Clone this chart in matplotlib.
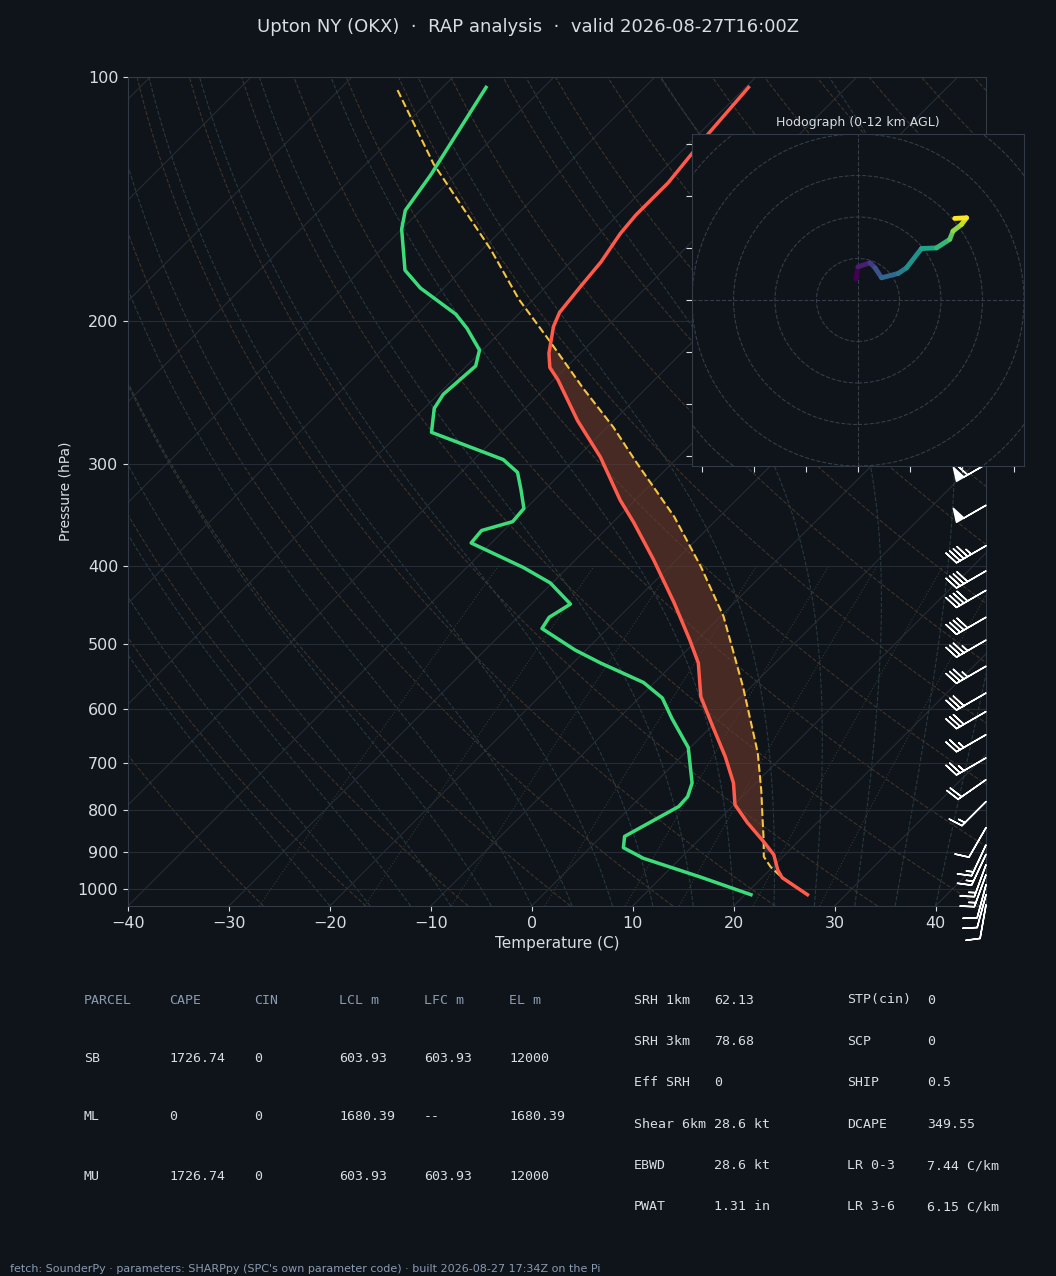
import numpy as np
import matplotlib
matplotlib.use("Agg")
import matplotlib.pyplot as plt
from matplotlib.collections import LineCollection

# sounding values
t_pres = [1017, 969, 948, 908, 875, 829, 788, 741, 688, 632, 580, 527, 494, 444, 393, 354,
          332, 294, 265, 236, 228, 219, 203, 195, 181, 169, 156, 148, 135, 125, 117, 103]
t_temp = [26.2, 22.0, 20.8, 18.9, 16.6, 13.1, 10.1, 7.8, 4.4, 0.2, -4.0, -7.6, -10.7, -16.0,
          -22.3, -27.9, -31.5, -37.7, -43.6, -49.6, -51.6, -53.1, -55.3, -56.1, -56.6, -57.0,
          -57.9, -58.2, -58.2, -58.7, -59.1, -59.7]

td_pres = [1017, 967, 917, 890, 862, 835, 792, 770, 741, 670, 617, 582, 557, 527, 508, 478,
           463, 446, 420, 402, 375, 362, 353, 340, 322, 307, 296, 274, 256, 246, 227, 217,
           204, 196, 182, 173, 154, 146, 132, 103]
td_temp = [20.6, 13.8, 6.3, 3.3, 2.3, 3.2, 4.7, 4.6, 3.7, -0.2, -4.7, -7.7, -11.1, -17.3, -21.1,
           -26.5, -26.9, -26.1, -30.2, -34.4, -42.0, -42.2, -40.0, -40.2, -42.4, -44.4, -47.1,
           -56.9, -59.0, -59.5, -59.1, -60.3, -63.7, -66.2, -72.3, -75.6, -80.0, -81.5, -82.5, -85.7]

parcel_pres = [1017, 969, 940, 913, 870, 824, 757, 680, 564, 462, 401, 348, 299, 270, 242,
               212, 188, 163, 128, 103]
parcel_temp = [26.2, 22.0, 19.8, 18.1, 16.4, 14.4, 11.3, 7.2, -0.8, -9.7, -16.9, -24.5, -33.5,
               -39.4, -46.2, -54.1, -61.4, -69.2, -83.3, -94.6]

barb_pres = [1047, 1017, 989, 961, 934, 907, 883, 841, 781, 734, 690, 646, 605, 574, 532,
             494, 463, 429, 406, 378, 337, 300]
barb_spd = [10, 12, 12, 13, 14, 15, 15, 10, 15, 20, 25, 25, 30, 30, 35, 35, 40, 40, 40, 45, 50, 60]
barb_dir = [190, 195, 195, 200, 200, 205, 205, 210, 225, 235, 240, 240, 240, 240, 240,
            240, 240, 240, 240, 240, 240, 240]

hodo_u = [-1, 0, 5.8, 8.2, 11.4, 19.4, 23.4, 30.6, 37.8, 44.2, 45.8, 49.9, 52.3, 46.6]
hodo_v = [10, 16, 17.9, 15.5, 10.7, 12.8, 15.5, 24.8, 25.1, 29.2, 33.2, 36.4, 39.6, 39.3]

table_left = [["PARCEL", "CAPE", "CIN", "LCL m", "LFC m", "EL m"],
              ["SB", "1726.74", "0", "603.93", "603.93", "12000"],
              ["ML", "0", "0", "1680.39", "--", "1680.39"],
              ["MU", "1726.74", "0", "603.93", "603.93", "12000"]]
table_mid = [["SRH 1km", "62.13"], ["SRH 3km", "78.68"], ["Eff SRH", "0"],
             ["Shear 6km", "28.6 kt"], ["EBWD", "28.6 kt"], ["PWAT", "1.31 in"]]
table_right = [["STP(cin)", "0"], ["SCP", "0"], ["SHIP", "0.5"], ["DCAPE", "349.55"],
               ["LR 0-3", "7.44 C/km"], ["LR 3-6", "6.15 C/km"]]

BG = "#0f131a"
FG = "#d8dde4"
GRID = "#252c35"
P_BOT, P_TOP = 1050, 100
SKEW = 80.5  # degC per decade of pressure


def skew(t, p):
    return np.asarray(t, float) + SKEW * np.log10(P_BOT / np.asarray(p, float))


def sat_mix(t_c, p):
    es = 6.112 * np.exp(17.67 * t_c / (t_c + 243.5))
    return 0.622 * es / (p - es)


fig = plt.figure(figsize=(10.56, 12.76), dpi=100, facecolor=BG)
ax = fig.add_axes([0.1212, 0.29, 0.8125, 0.6497], facecolor=BG)
ax.set_yscale("log")
ax.set_ylim(P_BOT, P_TOP)
ax.set_xlim(-40, 45)

pp = np.geomspace(P_BOT, P_TOP, 200)
# isotherms
for t0 in range(-120, 60, 10):
    ax.plot(skew(np.full_like(pp, t0), pp), pp, color="#262d36", lw=0.8, zorder=1)
# dry adiabats
for th in range(-30, 220, 10):
    tk = (th + 273.15) * (pp / 1000) ** 0.2857 - 273.15
    ax.plot(skew(tk, pp), pp, color="#3d3429", lw=0.8, ls="--", zorder=1)
# moist adiabats
for t0 in range(-20, 44, 4):
    temps = [t0 + 273.15]
    for i in range(1, len(pp)):
        T = temps[-1]
        rs = sat_mix(T - 273.15, pp[i - 1])
        dtdp = (287 * T + 2.5e6 * rs) / (pp[i - 1] * (1004 + 2.5e6 ** 2 * rs * 0.622 / (287 * T * T)))
        temps.append(T + dtdp * (pp[i] - pp[i - 1]))
    ax.plot(skew(np.array(temps) - 273.15, pp), pp, color="#263a3e", lw=0.8, ls="--", zorder=1)
# mixing ratio lines
pm = np.geomspace(P_BOT, 400, 60)
for w in [0.4, 1, 2, 4, 7, 10, 16, 24]:
    e = pm * w / 1000 / (0.622 + w / 1000)
    td = 243.5 * np.log(e / 6.112) / (17.67 - np.log(e / 6.112))
    ax.plot(skew(td, pm), pm, color="#2d3b32", lw=0.8, ls=":", zorder=1)

for p0 in range(100, 1100, 100):
    ax.axhline(p0, color=GRID, lw=0.8, zorder=1)

# CAPE / CIN shading
pg = np.geomspace(900, 214, 300)
lp_t = np.interp(np.log(pg), np.log(t_pres[::-1]), t_temp[::-1])
lp_p = np.interp(np.log(pg), np.log(parcel_pres[::-1]), parcel_temp[::-1])
ax.fill_betweenx(pg, skew(lp_t, pg), skew(lp_p, pg), where=lp_p > lp_t,
                 color="#6b3a2a", alpha=0.6, lw=0, zorder=2)
ax.fill_betweenx(pg, skew(lp_t, pg), skew(lp_p, pg), where=(lp_p < lp_t) & (pg > 800),
                 color="#2a4a7a", alpha=0.6, lw=0, zorder=2)

ax.plot(skew(t_temp, t_pres), t_pres, color="#ff5a4a", lw=2.5, zorder=4)
ax.plot(skew(td_temp, td_pres), td_pres, color="#3ddc7a", lw=2.5, zorder=4)
ax.plot(skew(parcel_temp, parcel_pres), parcel_pres, color="#f5c542", lw=1.5, ls="--", zorder=3)

# wind barbs
spd = np.array(barb_spd, float)
d = np.radians(barb_dir)
ax.barbs(np.ones(len(barb_pres)), barb_pres, -spd * np.sin(d), -spd * np.cos(d),
         transform=ax.get_yaxis_transform(), color="white", length=7, linewidth=1.1,
         clip_on=False, zorder=5)

ax.yaxis.set_major_locator(matplotlib.ticker.FixedLocator(range(100, 1100, 100)))
ax.yaxis.set_minor_locator(matplotlib.ticker.NullLocator())
ax.yaxis.set_major_formatter(matplotlib.ticker.FixedFormatter([str(v) for v in range(100, 1100, 100)]))
ax.set_xticks(range(-40, 50, 10))
ax.tick_params(colors=FG, labelsize=11.5)
for s in ax.spines.values():
    s.set_color("#333b47")
ax.set_xlabel("Temperature (C)", color=FG, fontsize=11)
ax.set_ylabel("Pressure (hPa)", color=FG, fontsize=10)
fig.text(0.5, 0.979, "Upton NY (OKX)  ·  RAP analysis  ·  valid 2026-08-27T16:00Z",
         color=FG, fontsize=13, ha="center", va="center")

# hodograph
hx = fig.add_axes([0.6553, 0.6348, 0.3144, 0.2602], facecolor=BG)
hx.set_xlim(-80, 80)
hx.set_ylim(-80, 80)
for r in [20, 40, 60, 80, 100]:
    hx.add_patch(plt.Circle((0, 0), r, fill=False, ec="#343d49", ls="--", lw=0.8))
hx.axhline(0, color="#343d49", ls="--", lw=0.8)
hx.axvline(0, color="#343d49", ls="--", lw=0.8)
hu = np.array(hodo_u)
hv = np.array(hodo_v)
segs = np.stack([np.column_stack([hu[:-1], hv[:-1]]), np.column_stack([hu[1:], hv[1:]])], axis=1)
lc = LineCollection(segs, cmap="viridis", linewidths=3.5, capstyle="round")
lc.set_array(np.arange(len(segs)))
hx.add_collection(lc)
hx.set_xticks(np.arange(-75, 100, 25))
hx.set_yticks(np.arange(-75, 100, 25))
hx.tick_params(colors=FG, labelleft=False, labelbottom=False, length=4)
for s in hx.spines.values():
    s.set_color("#333b47")
hx.set_title("Hodograph (0-12 km AGL)", color=FG, fontsize=9)

# parameter table
mono = "DejaVu Sans Mono"
col_x = [84, 169, 254, 339, 424, 509]
row_y = [1000, 1058, 1117, 1176]
for i, row in enumerate(table_left):
    for j, cell in enumerate(row):
        fig.text(col_x[j] / 1056, 1 - row_y[i] / 1276, cell, family=mono, fontsize=9.5,
                 color="#8a9bb0" if i == 0 else FG, va="center")
for i in range(6):
    y = 1 - (1000 + i * 41.4) / 1276
    fig.text(634 / 1056, y, table_mid[i][0], family=mono, fontsize=9.5, color=FG, va="center")
    fig.text(714 / 1056, y, table_mid[i][1], family=mono, fontsize=9.5, color=FG, va="center")
    fig.text(847 / 1056, y, table_right[i][0], family=mono, fontsize=9.5, color=FG, va="center")
    fig.text(927 / 1056, y, table_right[i][1], family=mono, fontsize=9.5, color=FG, va="center")

fig.text(10 / 1056, 1 - 1269 / 1276,
         "fetch: SounderPy · parameters: SHARPpy (SPC's own parameter code) · built 2026-08-27 17:34Z on the Pi",
         color="#8a9bb0", fontsize=8, va="center")

fig.savefig("out.png", dpi=100, facecolor=BG)
